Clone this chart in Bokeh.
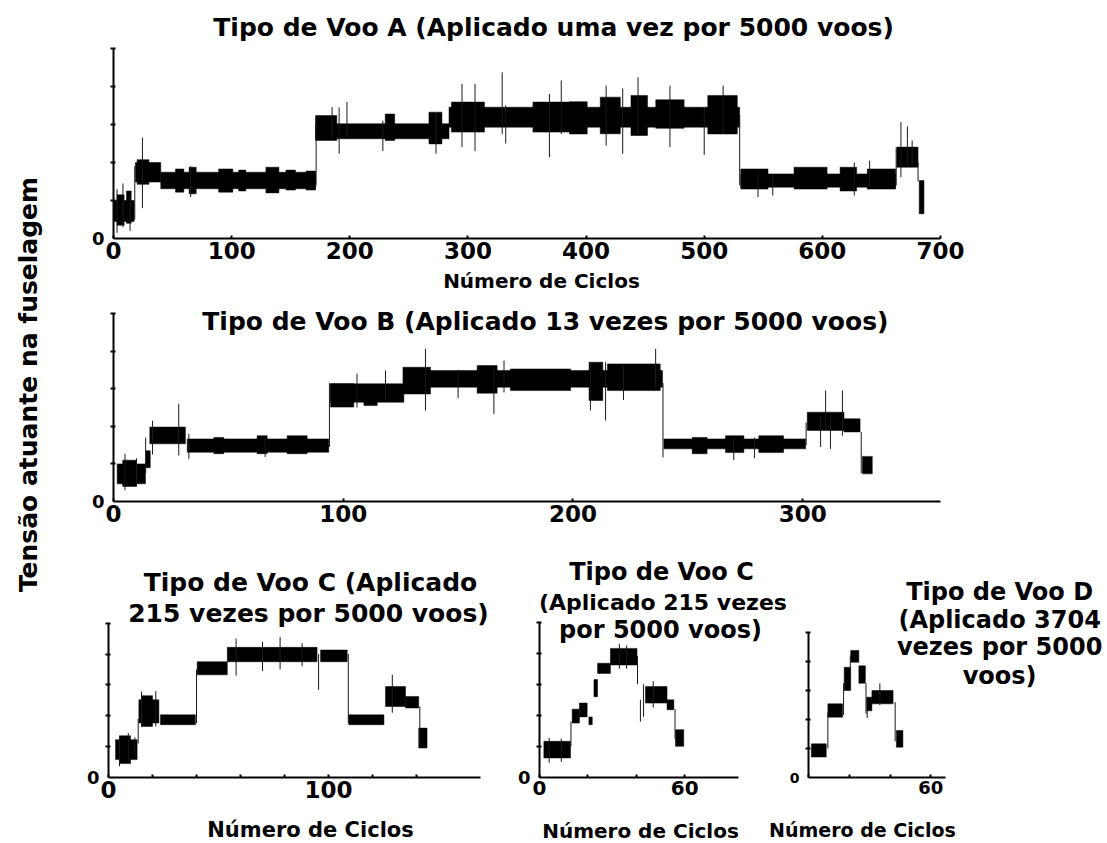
import math
from bokeh.plotting import figure
from bokeh.layouts import row, column
from bokeh.models import Label, FixedTicker, Range1d
from bokeh.embed import file_html
from bokeh.resources import INLINE

FONT = "DejaVu Sans"

# ---------------- data (stress level bands) ----------------
# Flight type A
a_x0 = [0, 18.5, 40, 171, 284, 531, 663, 682, 3, 11, 20, 52.5, 64, 89, 106, 129, 146, 163, 171, 230, 267,
        286, 355, 386, 412, 438, 459, 503, 531, 576, 615, 638]
a_x1 = [17.5, 40, 171, 284, 530, 662, 681, 686, 9, 15, 30, 59.5, 70, 101, 112, 140, 154, 171, 189, 238, 278,
        314, 387, 401, 429, 452, 483, 528, 554, 604, 629, 662]
a_lo = [0.9, 2.97, 2.62, 5.25, 5.86, 2.7, 3.75, 1.3, 0.7, 0.8, 2.85, 2.44, 2.35, 2.44, 2.5, 2.4, 2.55, 2.55, 5.16, 5.16, 4.98,
        5.6, 5.6, 5.5, 5.51, 5.42, 5.8, 5.5, 2.6, 2.6, 2.5, 2.6]
a_hi = [2.0, 4.0, 3.49, 6.04, 6.91, 3.4, 4.81, 3.05, 2.3, 2.5, 4.15, 3.66, 3.75, 3.66, 3.6, 3.75, 3.6, 3.55, 6.47, 6.55, 6.65,
        7.18, 7.18, 7.2, 7.44, 7.53, 7.3, 7.53, 3.66, 3.75, 3.75, 3.66]
a_sx = [3, 8, 14, 18, 24.5, 65.3, 171.5, 185, 191, 197.6, 228, 273, 295, 306, 329, 332, 369, 379, 417, 431, 444,
        471, 500, 516, 530, 545.5, 558, 627, 640, 662.5, 666.5, 672, 676, 681]
a_slo = [0.3, 0.6, 0.4, 1.0, 1.6, 2.18, 2.8, 5.2, 4.46, 5.3, 4.6, 4.46, 4.81, 4.6, 5.5, 5.0, 4.28, 5.5, 4.89, 4.46, 5.4,
         4.81, 4.4, 5.5, 2.8, 2.18, 2.26, 2.26, 2.7, 2.8, 3.23, 3.8, 3.8, 3.0]
a_shi = [2.6, 2.9, 2.2, 3.8, 5.3, 3.8, 6.2, 6.91, 6.9, 7.18, 6.2, 6.6, 8.14, 8.14, 8.75, 7.0, 7.61, 8.32, 8.05, 7.9, 8.49,
         8.05, 6.9, 8.05, 6.5, 3.4, 3.4, 4.0, 4.1, 4.8, 6.13, 5.9, 5.16, 4.0]

# Flight type B
b_x0 = [1.6, 14, 15.8, 32.1, 94.5, 126.4, 239.6, 302, 318, 326, 4, 43.7, 62.5, 75.6, 94.5, 109, 126, 158.3, 172.8,
        207, 215, 251.9, 266.4, 280.9]
b_x1 = [13.9, 16, 31.3, 93.7, 126.4, 239, 301.3, 318, 325, 330.3, 10, 48, 66.9, 84.3, 104.6, 114.8, 138, 167, 199,
        213, 238, 258.4, 274.4, 291.7]
b_lo = [0.94, 1.8, 3.07, 2.62, 5.28, 6.08, 2.80, 3.78, 3.7, 1.47, 0.8, 2.54, 2.54, 2.54, 5.02, 5.1, 5.72, 5.76, 5.9,
        5.37, 5.9, 2.54, 2.6, 2.6]
b_hi = [2.0, 2.7, 3.96, 3.33, 6.26, 6.97, 3.33, 4.75, 4.4, 2.4, 2.2, 3.41, 3.5, 3.5, 6.26, 6.1, 7.14, 7.23, 7.05,
        7.41, 7.32, 3.41, 3.5, 3.5]
b_sx = [5, 10, 14, 17, 28.4, 32.8, 66, 94, 106, 118.4, 135.8, 150, 165.6, 170, 207.6, 214.2, 222, 236, 239.2, 270,
        279, 301.5, 307.8, 310, 312.1, 317.3, 325.5]
b_slo = [0.6, 0.8, 1.5, 2.5, 2.45, 2.27, 2.36, 2.9, 5.0, 5.3, 4.84, 5.5, 4.66, 5.8, 4.84, 4.31, 5.4, 6.0, 2.35, 2.2,
         2.3, 3.0, 2.9, 3.8, 2.8, 3.5, 1.5]
b_shi = [2.54, 2.3, 3.4, 4.3, 5.2, 3.6, 3.5, 6.3, 6.8, 6.97, 8.12, 7.0, 7.2, 7.5, 7.41, 7.41, 7.2, 8.12, 6.3, 3.4,
         3.4, 4.2, 4.5, 5.9, 4.5, 5.9, 3.7]

# Flight type C (first view)
c_x0 = [3.2, 13.8, 23.6, 40.3, 54, 96.4, 109.2, 125.9, 135, 141, 5, 15]
c_x1 = [13.0, 22.9, 39.5, 54, 94.8, 108.5, 125.2, 135, 141, 144.8, 10, 20]
c_lo = [1.16, 3.53, 3.42, 6.65, 7.5, 7.5, 3.42, 4.6, 4.5, 1.91, 0.9, 3.3]
c_hi = [2.45, 5.03, 4.06, 7.5, 8.43, 8.26, 4.06, 5.89, 5.25, 3.2, 2.7, 5.3]
c_sx = [5, 9, 12, 13.5, 15, 21.5, 40, 58, 70, 78, 88, 95.5, 109, 129, 141.5]
c_slo = [0.73, 1.0, 1.3, 2.2, 3.3, 3.3, 3.5, 6.6, 6.9, 7.0, 7.2, 5.68, 3.5, 4.2, 2.0]
c_shi = [2.7, 2.88, 2.6, 3.8, 5.57, 5.6, 7.0, 9.0, 8.8, 9.1, 8.7, 8.0, 8.0, 6.65, 4.6]

# Flight type C (second view)
c2_x0 = [1.8, 13.5, 16.5, 20.4, 22.5, 24, 29.3, 43.8, 52.7, 56.2]
c2_x1 = [12.8, 16.5, 19.7, 21.8, 24, 29.3, 40.3, 52.7, 55.5, 59.6]
c2_lo = [1.26, 3.5, 3.9, 3.4, 5.2, 6.7, 7.24, 4.79, 4.36, 2.01]
c2_hi = [2.33, 4.4, 4.79, 3.9, 6.3, 7.35, 8.31, 5.86, 5.0, 3.08]
c2_sx = [4, 9, 13, 33, 36, 40.5, 41.7, 43, 47, 56]
c2_slo = [0.94, 1.0, 2.0, 7.0, 7.0, 6.0, 3.6, 3.9, 4.5, 2.5]
c2_shi = [2.55, 2.5, 3.6, 8.6, 8.5, 7.8, 5.0, 6.0, 6.2, 4.4]

# Flight type D
d_x0 = [1.4, 9.5, 17.5, 20.7, 24.7, 28.5, 31.1, 43.1]
d_x1 = [8.7, 16.7, 20.7, 24.7, 27.9, 31.1, 41.5, 46.3]
d_lo = [1.41, 4.16, 6.0, 7.95, 6.5, 4.6, 5.08, 2.09]
d_hi = [2.32, 5.08, 7.6, 8.76, 7.7, 5.54, 6.0, 3.24]
d_sx = [9.5, 17.2, 20.5, 28.2, 28.8, 35, 42.5]
d_slo = [2.0, 4.3, 7.2, 4.4, 4.1, 5.0, 2.5]
d_shi = [4.5, 6.5, 8.4, 6.5, 4.6, 6.5, 5.2]

# tick labels
a_ticks = [0, 100, 200, 300, 400, 500, 600, 700]
b_ticks = [0, 100, 200, 300]
c_ticks = [0, 100]
c2_ticks = [0, 60]
d_ticks = [60]

# texts
title_a = "Tipo de Voo A (Aplicado uma vez por 5000 voos)"
title_b = "Tipo de Voo B (Aplicado 13 vezes por 5000 voos)"
title_c = ["Tipo de Voo C (Aplicado", "215 vezes por 5000 voos)"]
title_c2 = ["Tipo de Voo C", "(Aplicado 215 vezes", "por 5000 voos)"]
title_d = ["Tipo de Voo D", "(Aplicado 3704", "vezes por 5000", "voos)"]
xlabel = "Número de Ciclos"
ylabel = "Tensão atuante na fuselagem"


def lab(p, x, y, text, size, angle=0.0):
    p.add_layout(Label(x=x, y=y, text=text, angle=angle, text_align="center", text_baseline="middle",
                       text_font=FONT, text_font_style="bold", text_font_size=size,
                       text_color="black"))


def panel(width, height, left, right, top, bottom, xmax, ymax, xb, yb,
          x0, x1, lo, hi, sx, slo, shi, ticks, minor, tick_size, zero_size):
    p = figure(width=width, height=height, x_range=Range1d(0, xmax), y_range=Range1d(0, ymax),
               output_backend="svg", toolbar_location=None, title=None)
    p.min_border_left = left
    p.min_border_right = right
    p.min_border_top = top
    p.min_border_bottom = bottom
    p.outline_line_color = None
    p.xgrid.visible = False
    p.ygrid.visible = False
    p.background_fill_color = "white"
    p.border_fill_color = "white"

    p.quad(left=x0, right=x1, bottom=lo, top=hi, fill_color="black", line_color="black", line_width=0.5)
    p.segment(x0=sx, y0=slo, x1=sx, y1=shi, line_color="#1a1a1a", line_width=1)

    xa = p.xaxis[0]
    xa.bounds = (0, xb)
    xa.ticker = FixedTicker(ticks=ticks, minor_ticks=minor)
    xa.axis_line_width = 2
    xa.axis_line_color = "black"
    xa.major_tick_in = 3
    xa.major_tick_out = 0
    xa.minor_tick_in = 3
    xa.minor_tick_out = 0
    xa.major_tick_line_width = 2
    xa.minor_tick_line_width = 2
    xa.major_label_standoff = 3
    xa.major_label_text_font = FONT
    xa.major_label_text_font_style = "bold"
    xa.major_label_text_font_size = tick_size
    xa.major_label_text_color = "black"

    ya = p.yaxis[0]
    ya.bounds = (0, yb)
    ya.ticker = FixedTicker(ticks=[0], minor_ticks=[2, 4, 6, 8, 10])
    ya.axis_line_width = 2
    ya.axis_line_color = "black"
    ya.major_tick_in = 0
    ya.major_tick_out = 0
    ya.minor_tick_in = 2
    ya.minor_tick_out = 3
    ya.minor_tick_line_width = 2
    ya.major_label_standoff = 6
    ya.major_label_text_font = FONT
    ya.major_label_text_font_style = "bold"
    ya.major_label_text_font_size = zero_size
    ya.major_label_text_color = "black"
    return p


def strip(width, height):
    p = figure(width=width, height=height, x_range=Range1d(0, width), y_range=Range1d(0, height),
               output_backend="svg", toolbar_location=None, title=None)
    p.min_border = 0
    p.min_border_left = 0
    p.min_border_right = 0
    p.min_border_top = 0
    p.min_border_bottom = 0
    p.axis.visible = False
    p.grid.visible = False
    p.outline_line_color = None
    return p


# Panel A: frame x 113..940, y 0..238
pa = panel(1054, 270, 63, 164, 0, 32, 700, 238 / 19, 700, 10,
           a_x0, a_x1, a_lo, a_hi, a_sx, a_slo, a_shi, a_ticks, [], "23px", "18px")
lab(pa, 372.5, 11.1, title_a, "25px")

# Panel B: frame x 113..940, y 270..501
pb = panel(1054, 261, 63, 164, 0, 30, 360, 231 / 18.8, 360, 10,
           b_x0, b_x1, b_lo, b_hi, b_sx, b_slo, b_shi, b_ticks, [], "23px", "18px")
lab(pb, 188, 9.57, title_b, "25px")
lab(pb, 186.3, 11.75, xlabel, "20px")  # x label of panel A (sits just above panel B)

# Bottom row: y 531..808
pc = panel(455, 277, 58, 0, 0, 30, 397 / 2.2, 247 / 15.5, 169.1, 10,
           c_x0, c_x1, c_lo, c_hi, c_sx, c_slo, c_shi, c_ticks, [20, 40, 60, 80, 120, 140], "23px", "18px")
lab(pc, 91.8, 12.65, title_c[0], "25px")
lab(pc, 90.9, 10.65, title_c[1], "25px")

pc2 = panel(281, 277, 34, 0, 0, 30, 247 / 2.42, 247 / 15.6, 82.2, 10,
            c2_x0, c2_x1, c2_lo, c2_hi, c2_sx, c2_slo, c2_shi, c2_ticks, [20, 40], "20px", "18px")
lab(pc2, 50.4, 13.2, title_c2[0], "24px")
lab(pc2, 51.0, 11.28, title_c2[1], "22px")
lab(pc2, 50.0, 9.49, title_c2[2], "24px")

pd = panel(318, 277, 16, 0, 0, 31, 302 / 2.08, 246 / 14.5, 67.3, 10,
           d_x0, d_x1, d_lo, d_hi, d_sx, d_slo, d_shi, d_ticks, [0, 20, 40], "18px", "14px")
for t, yy in zip(title_d, [12.76, 10.83, 8.97, 7.03]):
    lab(pd, 93.75, yy, t, "24px")

# Bottom strip with the x labels of the three small panels (image y 808..843, x 50..1104)
ps = strip(1054, 35)
lab(ps, 310 - 50, 14, xlabel, "21px")
lab(ps, 640 - 50, 13, xlabel, "20px")
lab(ps, 862 - 50, 14, xlabel, "19px")

# Left strip with the shared y label
pl = strip(50, 843)
lab(pl, 28, 459, ylabel, "25px", angle=math.pi / 2)

layout = row(pl, column(pa, pb, row(pc, pc2, pd), row(ps)))
open("out.html", "w").write(file_html(layout, INLINE))
